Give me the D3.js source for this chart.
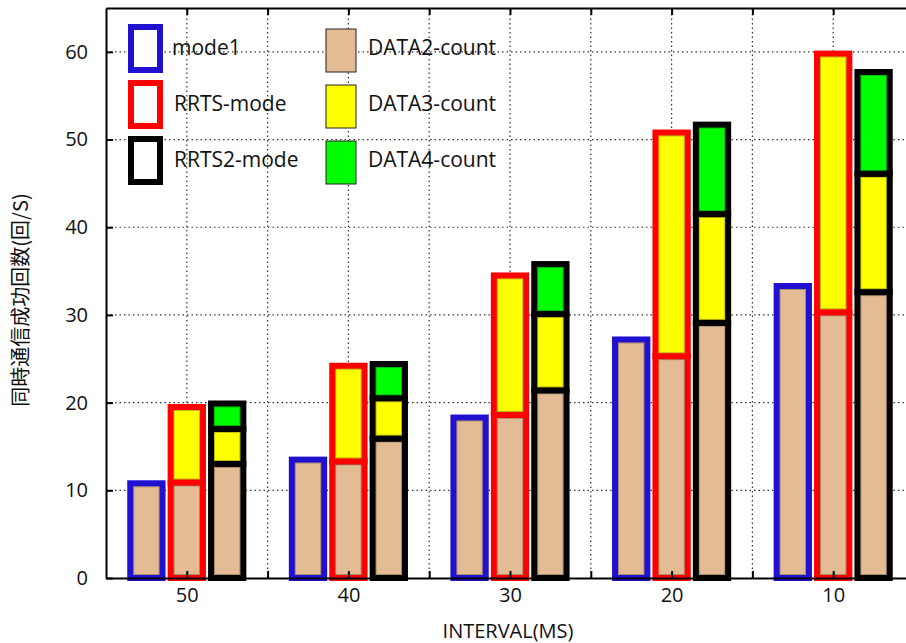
<!DOCTYPE html>
<html>
<head>
<meta charset="utf-8">
<script src="https://cdn.jsdelivr.net/npm/d3@7"></script>
<style>
  body { margin: 0; background: #fff; }
  svg { display: block; font-family: "Open Sans", sans-serif; }
</style>
</head>
<body>
<div id="chart"></div>
<script>
'use strict';

// Kategorien (x-Achse)
var intervals = ["50", "40", "30", "20", "10"];

// mode1: nur DATA2
var mode1Data2 = [10.8, 13.5, 18.3, 27.2, 33.3];
// RRTS-mode: DATA2 + DATA3
var rrtsData2 = [10.9, 13.3, 18.6, 25.3, 30.3];
var rrtsData3 = [8.6, 10.9, 15.9, 25.5, 29.5];
// RRTS2-mode: DATA2 + DATA3 + DATA4
var rrts2Data2 = [13.0, 15.9, 21.4, 29.1, 32.6];
var rrts2Data3 = [4.0, 4.6, 8.7, 12.4, 13.5];
var rrts2Data4 = [2.9, 3.9, 5.7, 10.2, 11.6];

var yTicks = [0, 10, 20, 30, 40, 50, 60];

var modeNames = ["mode1", "RRTS-mode", "RRTS2-mode"];
var modeColors = ["#2010d0", "#ff0000", "#000000"];
var countNames = ["DATA2-count", "DATA3-count", "DATA4-count"];
var countColors = ["#e3bb95", "#ffff00", "#00ff00"];

var width = 906, height = 643;

var svg = d3.select("#chart")
    .append("svg")
    .attr("width", width)
    .attr("height", height);

var x = d3.scaleLinear().domain([0.5, 5.5]).range([106, 914]);
var y = d3.scaleLinear().domain([0, 65]).range([578, 8]);

// Gitter (gepunktet)
var grid = svg.append("g").attr("class", "grid")
    .style("stroke", "#333")
    .style("stroke-width", 1.2)
    .style("stroke-dasharray", "1.5,3");

grid.selectAll("line.v")
    .data(d3.range(1, 5.01, 0.5))
    .enter().append("line")
    .attr("x1", d => x(d)).attr("x2", d => x(d))
    .attr("y1", y(0)).attr("y2", y(65));

grid.selectAll("line.h")
    .data(yTicks.slice(1))
    .enter().append("line")
    .attr("x1", x(0.5)).attr("x2", x(5.5))
    .attr("y1", d => y(d)).attr("y2", d => y(d));

// Balken aufbauen
var bars = [];
intervals.forEach(function (name, i) {
    bars.push({ cat: i + 1, off: -0.25, color: modeColors[0],
        segs: [mode1Data2[i]] });
    bars.push({ cat: i + 1, off: 0, color: modeColors[1],
        segs: [rrtsData2[i], rrtsData3[i]] });
    bars.push({ cat: i + 1, off: 0.25, color: modeColors[2],
        segs: [rrts2Data2[i], rrts2Data3[i], rrts2Data4[i]] });
});

var barW = 0.2;
var rects = [];
bars.forEach(function (b) {
    var base = 0;
    b.segs.forEach(function (v, k) {
        rects.push({ x0: b.cat + b.off - barW / 2, x1: b.cat + b.off + barW / 2,
            y0: base, y1: base + v, fill: countColors[k], stroke: b.color });
        base += v;
    });
});

var barG = svg.append("g").attr("class", "bars");

barG.selectAll("rect.seg")
    .data(rects)
    .enter().append("rect")
    .attr("class", "seg")
    .attr("x", d => x(d.x0))
    .attr("y", d => y(d.y1))
    .attr("width", d => x(d.x1) - x(d.x0))
    .attr("height", d => y(d.y0) - y(d.y1))
    .style("fill", d => d.fill)
    .style("stroke", d => d.stroke)
    .style("stroke-width", 6);

// feine Innenkante
barG.selectAll("rect.inner")
    .data(rects)
    .enter().append("rect")
    .attr("class", "inner")
    .attr("x", d => x(d.x0) + 3.5)
    .attr("y", d => y(d.y1) + 3.5)
    .attr("width", d => x(d.x1) - x(d.x0) - 7)
    .attr("height", d => Math.max(0, y(d.y0) - y(d.y1) - 7))
    .style("fill", "none")
    .style("stroke", "#000")
    .style("stroke-opacity", 0.25)
    .style("stroke-width", 1);

// Achsen
var axisFont = function (g) {
    g.selectAll("text")
        .style("font-family", "'Open Sans', sans-serif")
        .style("font-size", "20px")
        .style("fill", "#111");
    g.selectAll("line, path").style("stroke", "#000").style("stroke-width", 2);
};

svg.append("g")
    .attr("transform", "translate(" + x(0.5) + ",0)")
    .call(d3.axisLeft(y).tickValues(yTicks).tickSize(-7).tickSizeOuter(0).tickPadding(18))
    .call(axisFont);

svg.append("g")
    .attr("transform", "translate(0," + y(0) + ")")
    .call(d3.axisBottom(x).tickValues(d3.range(1, 5.51, 0.5))
        .tickFormat(d => Number.isInteger(d) ? intervals[d - 1] : "")
        .tickSize(-7).tickSizeOuter(0).tickPadding(10))
    .call(axisFont);

svg.append("g")
    .attr("transform", "translate(0," + y(65) + ")")
    .call(d3.axisTop(x).tickValues(d3.range(1, 5.51, 0.5)).tickFormat("")
        .tickSize(-7).tickSizeOuter(0))
    .call(axisFont);

svg.append("g")
    .attr("transform", "translate(" + x(5.5) + ",0)")
    .call(d3.axisRight(y).tickValues(yTicks).tickFormat("").tickSize(-7).tickSizeOuter(0))
    .call(axisFont);

// Achsentitel
svg.append("text")
    .attr("x", 508)
    .attr("y", 638)
    .attr("text-anchor", "middle")
    .style("font-size", "20px")
    .style("fill", "#111")
    .text("INTERVAL(MS)");

svg.append("text")
    .attr("transform", "translate(28,300) rotate(-90)")
    .attr("text-anchor", "middle")
    .style("font-family", "'Noto Sans CJK JP', sans-serif")
    .style("font-size", "20px")
    .style("fill", "#111")
    .text("同時通信成功回数(回/S)");

// Legende
var legend = svg.append("g").attr("class", "legend");
var rowY = [27, 83, 139];

legend.selectAll("rect.mode")
    .data(modeNames)
    .enter().append("rect")
    .attr("x", 131)
    .attr("y", (d, i) => rowY[i])
    .attr("width", 29)
    .attr("height", 43)
    .style("fill", "#fff")
    .style("stroke", (d, i) => modeColors[i])
    .style("stroke-width", 6);

legend.selectAll("text.mode")
    .data(modeNames)
    .enter().append("text")
    .attr("x", (d, i) => i === 0 ? 172 : 174)
    .attr("y", (d, i) => rowY[i] + 28)
    .style("font-size", "21px")
    .style("fill", "#111")
    .text(d => d);

legend.selectAll("rect.count")
    .data(countNames)
    .enter().append("rect")
    .attr("x", 326)
    .attr("y", (d, i) => rowY[i] + 2)
    .attr("width", 30)
    .attr("height", 43)
    .style("fill", (d, i) => countColors[i])
    .style("stroke", "#222")
    .style("stroke-width", 1);

legend.selectAll("text.count")
    .data(countNames)
    .enter().append("text")
    .attr("x", 368)
    .attr("y", (d, i) => rowY[i] + 28)
    .style("font-size", "21px")
    .style("fill", "#111")
    .text(d => d);
</script>
</body>
</html>
